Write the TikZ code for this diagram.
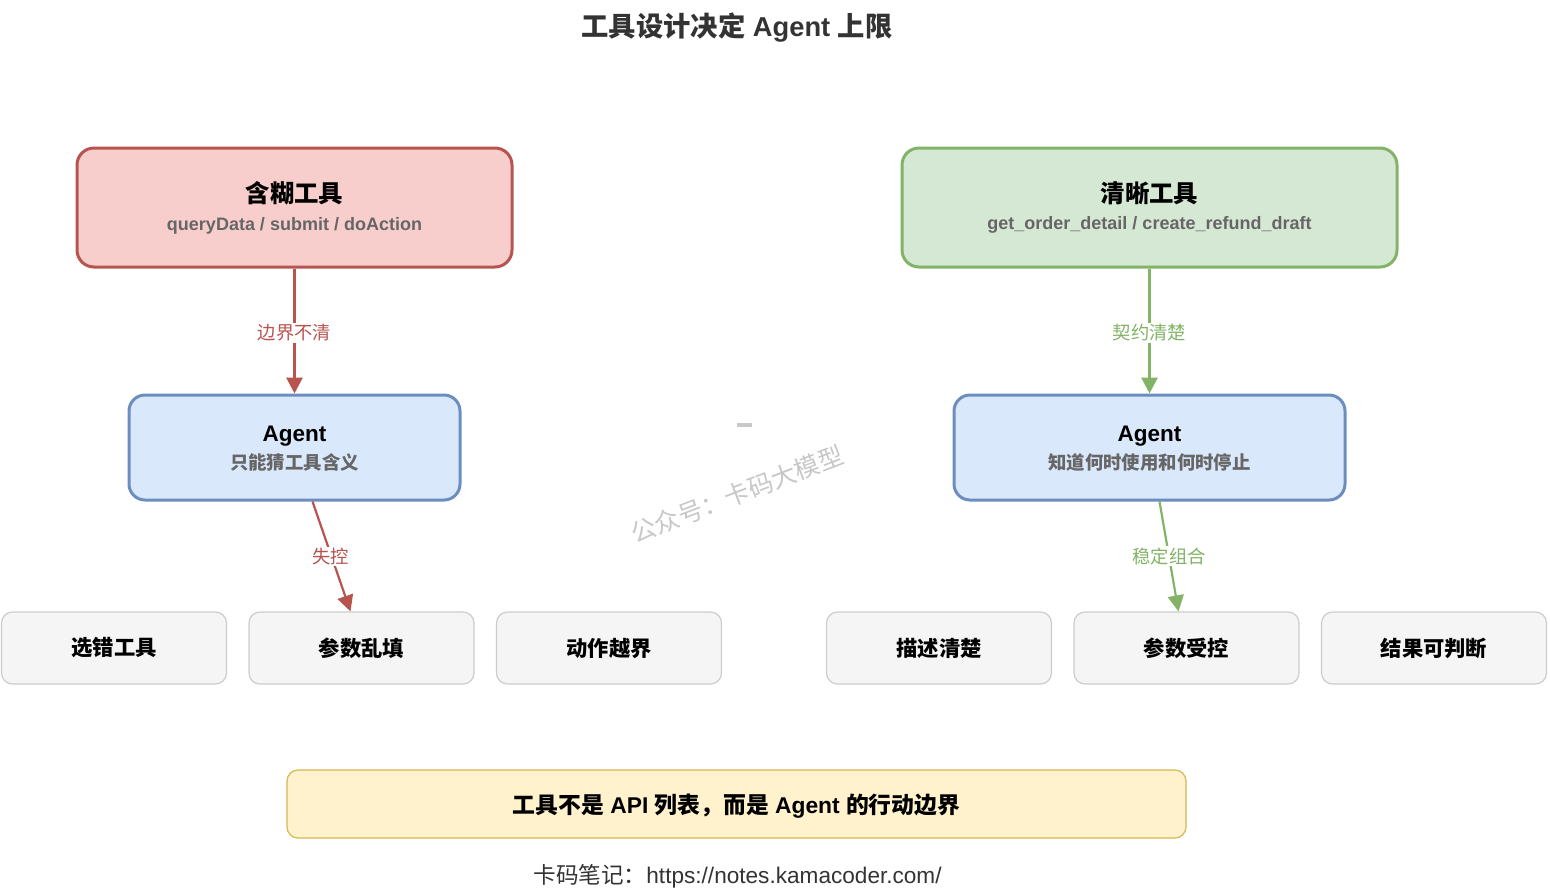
\documentclass[tikz,border=0pt]{standalone}
\usepackage{fontspec}
\setmainfont{Liberation Sans}
\newfontfamily\cjk{Noto Sans CJK SC}
\newcommand{\zh}[1]{{\cjk #1}}
\usetikzlibrary{arrows.meta}
\newcommand{\fs}[1]{\fontsize{#1pt}{#1pt}\selectfont}
\definecolor{redS}{HTML}{B85450}\definecolor{redF}{HTML}{F8CECC}
\definecolor{bluS}{HTML}{6C8EBF}\definecolor{bluF}{HTML}{DAE8FC}
\definecolor{grnS}{HTML}{82B366}\definecolor{grnF}{HTML}{D5E8D4}
\definecolor{gryS}{HTML}{CCCCCC}\definecolor{gryF}{HTML}{F5F5F5}
\definecolor{ylwS}{HTML}{D6B656}\definecolor{ylwF}{HTML}{FFF2CC}
\tikzset{
  boxbase/.style={rectangle,inner sep=0pt,align=center,text=black},
  bigbox/.style={boxbase,rounded corners=17pt,line width=3pt},
  redbox/.style={bigbox,draw=redS,fill=redF,minimum width=435pt,minimum height=119pt},
  grnbox/.style={bigbox,draw=grnS,fill=grnF,minimum width=495pt,minimum height=119pt},
  blubox/.style={bigbox,rounded corners=16pt,draw=bluS,fill=bluF,minimum height=105pt},
  grybox/.style={boxbase,rounded corners=11pt,line width=1.2pt,draw=gryS,fill=gryF,minimum width=225pt,minimum height=72pt,font=\fs{21.3}\bfseries},
  ylwbox/.style={rectangle,inner sep=0pt,text=black,rounded corners=11pt,line width=1.2pt,draw=ylwS,fill=ylwF,minimum width=899pt,minimum height=68pt,font=\fs{22.8}\bfseries,text height=22.4pt,text depth=4pt},
  conn/.style={line width=#1,-{Triangle[length=16pt,width=16pt]}},
  elabel/.style={fill=white,inner sep=1.5pt,font=\fs{18.3}}
}
\begin{document}
\begin{tikzpicture}[x=1pt,y=-1pt]
\useasboundingbox (0,0) rectangle (1550,892);
\node[inner sep=0pt,text=black!80,font=\fs{27.3}\bfseries] (title) at (737,28) {\zh{工具设计决定} Agent \zh{上限}};

\node[redbox] (vague) at (294.5,207.5) {{\fs{24.4}\bfseries\zh{含糊工具}}\\[11pt]{\fs{18}\bfseries\color{black!60}queryData / submit / doAction}};
\node[grnbox] (clear) at (1149.5,207.5) {{\fs{24.4}\bfseries\zh{清晰工具}}\\[11pt]{\fs{18}\bfseries\color{black!60}get\_order\_detail / create\_refund\_draft}};
\node[blubox,minimum width=331pt] (agentL) at (294.5,447.5) {\rule{0pt}{18pt}{\fs{22.5}\bfseries Agent}\\[6pt]{\fs{18.4}\bfseries\color{black!60}\zh{只能猜工具含义}}};
\node[blubox,minimum width=391pt] (agentR) at (1149.5,447.5) {\rule{0pt}{18pt}{\fs{22.5}\bfseries Agent}\\[6pt]{\fs{18.4}\bfseries\color{black!60}\zh{知道何时使用和何时停止}}};

\node[grybox] (g1) at (114,648) {\zh{选错工具}};
\node[grybox] (g2) at (361.5,648) {\zh{参数乱填}};
\node[grybox] (g3) at (609,648) {\zh{动作越界}};
\node[grybox] (g4) at (939,648) {\zh{描述清楚}};
\node[grybox] (g5) at (1186.5,648) {\zh{参数受控}};
\node[grybox] (g6) at (1434,648) {\zh{结果可判断}};

\node[ylwbox] (note) at (736.5,804) {\zh{工具不是} API \zh{列表，而是} Agent \zh{的行动边界}};
\node[inner sep=0pt,text=black!80,font=\fs{22.6}] (foot) at (737.5,876) {\zh{卡码笔记：}https://notes.kamacoder.com/};

\draw[conn=3pt,draw=redS] (vague.south) -- node[elabel,text=redS,yshift=-2pt]{\zh{边界不清}} (agentL.north);
\draw[conn=3pt,draw=grnS] (clear.south) -- node[elabel,text=grnS,yshift=-2pt]{\zh{契约清楚}} (agentR.north);
\draw[conn=2.2pt,draw=redS] ([xshift=18pt]agentL.south) -- node[elabel,text=redS,xshift=-1pt]{\zh{失控}} ([xshift=-11pt]g2.north);
\draw[conn=2.2pt,draw=grnS] ([xshift=10pt]agentR.south) -- node[elabel,text=grnS]{\zh{稳定组合}} ([xshift=-8pt]g5.north);

\node[inner sep=0pt,rotate=21,text=black!22,font=\fs{25}] (wm) at (737,494) {\zh{公众号：卡码大模型}};
\fill[black!22] (737,423) rectangle (752,426.5);
\end{tikzpicture}
\end{document}
